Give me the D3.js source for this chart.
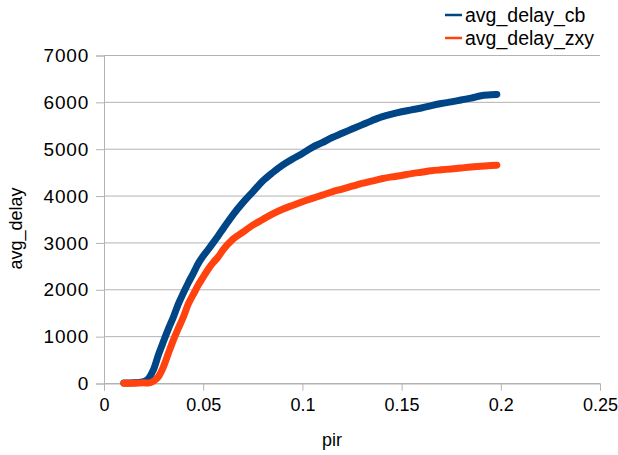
<!DOCTYPE html>
<html>
<head>
<meta charset="utf-8">
<script src="https://cdn.jsdelivr.net/npm/d3@7"></script>
<style>
  body { margin: 0; background: #fff; }
  text { font-family: "Liberation Sans", Arial, sans-serif; fill: #000; }
</style>
</head>
<body>
<div id="my_dataviz"></div>
<script>
// values
var pir = [0.010, 0.015, 0.020, 0.0225, 0.025, 0.0275, 0.030, 0.0325, 0.035, 0.0375,
    0.040, 0.0425, 0.045, 0.0475, 0.050, 0.0525, 0.055, 0.0575, 0.060, 0.065,
    0.070, 0.075, 0.080, 0.085, 0.090, 0.095, 0.100, 0.105, 0.110, 0.115,
    0.120, 0.125, 0.130, 0.135, 0.140, 0.145, 0.150, 0.155, 0.160, 0.165,
    0.170, 0.175, 0.180, 0.185, 0.190, 0.195, 0.198];

var avg_delay_cb = [10, 15, 40, 110, 300, 620, 900, 1170, 1420, 1700,
    1930, 2150, 2350, 2560, 2720, 2860, 3000, 3150, 3300, 3600,
    3860, 4090, 4320, 4500, 4660, 4790, 4910, 5040, 5140, 5250,
    5340, 5430, 5520, 5610, 5690, 5750, 5800, 5840, 5880, 5930,
    5975, 6010, 6050, 6090, 6140, 6160, 6170];

var avg_delay_zxy = [5, 5, 15, 10, 50, 150, 360, 650, 930, 1180,
    1420, 1700, 1900, 2100, 2270, 2440, 2580, 2700, 2850, 3080,
    3230, 3380, 3500, 3620, 3720, 3800, 3880, 3950, 4020, 4090,
    4150, 4210, 4270, 4320, 4370, 4410, 4440, 4480, 4510, 4540,
    4560, 4580, 4600, 4620, 4635, 4650, 4660];

var xTicks = [0, 0.05, 0.1, 0.15, 0.2, 0.25];
var yTicks = [0, 1000, 2000, 3000, 4000, 5000, 6000, 7000];
var seriesNames = ["avg_delay_cb", "avg_delay_zxy"];
var seriesColors = ["#004586", "#ff420e"];

// set the dimensions and margins of the graph
var margin = {top: 55.5, right: 18, bottom: 71.5, left: 104},
    width = 618 - margin.left - margin.right,
    height = 455 - margin.top - margin.bottom;

var svg = d3.select("#my_dataviz")
    .append("svg")
    .attr("width", 618)
    .attr("height", 455)
    .append("g")
    .attr("transform", "translate(" + margin.left + "," + margin.top + ")");

var x = d3.scaleLinear().domain([0, 0.25]).range([0, width]);
var y = d3.scaleLinear().domain([0, 7000]).range([height, 0]);

// horizontal grid
svg.append("g")
    .selectAll("line")
    .data(yTicks)
    .enter()
    .append("line")
    .attr("x1", 0)
    .attr("x2", width)
    .attr("y1", function (d) { return y(d); })
    .attr("y2", function (d) { return y(d); })
    .attr("stroke", "#b3b3b3")
    .attr("stroke-width", 1);

// Y axis
var y_axis = d3.axisLeft(y).tickValues(yTicks).tickSize(8).tickPadding(7)
    .tickFormat(d3.format("d"));
var gy = svg.append("g").call(y_axis);
gy.select(".domain").attr("stroke", "#b3b3b3");
gy.selectAll(".tick line").attr("stroke", "#b3b3b3");
gy.selectAll("text").attr("font-size", 19).attr("letter-spacing", 0.8).attr("fill", "#000");

// X axis
var x_axis = d3.axisBottom(x).tickValues(xTicks).tickSize(7).tickPadding(8)
    .tickFormat(function (d) { return d === 0 ? "0" : String(+d.toFixed(2)); });
var gx = svg.append("g")
    .attr("transform", "translate(0," + height + ")")
    .call(x_axis);
gx.select(".domain").attr("stroke", "#b3b3b3");
gx.selectAll(".tick line").attr("stroke", "#b3b3b3");
gx.selectAll("text").attr("font-size", 18).attr("fill", "#000");

// lines
function drawSeries(values, color) {
    var rows = pir.map(function (p, i) { return {p: p, v: values[i]}; });
    svg.append("path")
        .datum(rows)
        .attr("fill", "none")
        .attr("stroke", color)
        .attr("stroke-width", 7)
        .attr("stroke-linejoin", "round")
        .attr("stroke-linecap", "round")
        .attr("d", d3.line()
            .x(function (d) { return x(d.p); })
            .y(function (d) { return y(d.v); })
            .curve(d3.curveMonotoneX));
}

drawSeries(avg_delay_cb, seriesColors[0]);
drawSeries(avg_delay_zxy, seriesColors[1]);

// axis titles
svg.append("text")
    .attr("transform", "translate(" + (-88) + "," + (height / 2 + 9) + ") rotate(-90)")
    .attr("text-anchor", "middle")
    .attr("dy", "0.35em")
    .attr("font-size", 18)
    .text("avg_delay");

svg.append("text")
    .attr("x", width / 2 - 20)
    .attr("y", height + 62)
    .attr("text-anchor", "middle")
    .attr("font-size", 18)
    .text("pir");

// legend
var legend = d3.select("svg").append("g")
    .attr("transform", "translate(445,15)");

seriesNames.forEach(function (name, i) {
    var row = legend.append("g").attr("transform", "translate(0," + (i * 23) + ")");
    row.append("line")
        .attr("x1", 0).attr("x2", 17)
        .attr("y1", 0).attr("y2", 0)
        .attr("stroke", seriesColors[i])
        .attr("stroke-width", 2.5);
    row.append("text")
        .attr("x", 20)
        .attr("y", 0)
        .attr("dy", "0.35em")
        .attr("font-size", 19.5)
        .text(name);
});
</script>
</body>
</html>
